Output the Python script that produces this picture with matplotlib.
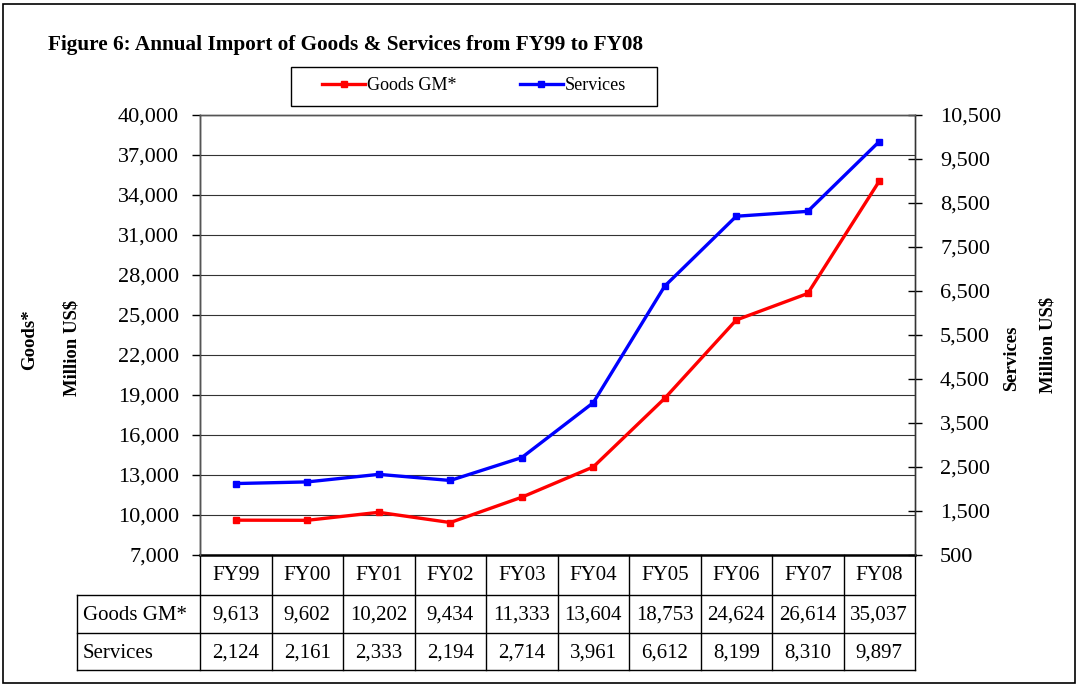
import numpy as np
import matplotlib as mpl
mpl.use('Agg')
import matplotlib.pyplot as plt
from matplotlib.lines import Line2D
from matplotlib.patches import Rectangle
import matplotlib.transforms as mtrans

years = ['FY99', 'FY00', 'FY01', 'FY02', 'FY03', 'FY04', 'FY05', 'FY06', 'FY07', 'FY08']
goods = [9613, 9602, 10202, 9434, 11333, 13604, 18753, 24624, 26614, 35037]
services = [2124, 2161, 2333, 2194, 2714, 3961, 6612, 8199, 8310, 9897]
left_ticks = list(range(7000, 40001, 3000))
right_ticks = list(range(500, 10501, 1000))

plt.rcParams['font.family'] = ['Liberation Serif', 'DejaVu Serif']

def main():
    W, H = 1078, 685
    fig = plt.figure(figsize=(W/100, H/100), dpi=100)
    # axes box in pixel terms
    x0, x1, yt, yb = 200, 915, 115, 555
    ax = fig.add_axes([x0/W, 1-yb/H, (x1-x0)/W, (yb-yt)/H])
    ax2 = ax.twinx()

    x = np.arange(len(years))
    ax.set_xlim(-0.5, len(years)-0.5)
    ax.set_ylim(7000, 40000)
    ax2.set_ylim(500, 10500)

    ax.set_yticks(left_ticks)
    ax.set_yticklabels(['{:,}'.format(v) for v in left_ticks], fontsize=16)
    ax2.set_yticks(right_ticks)
    ax2.set_yticklabels(['{:,}'.format(v) for v in right_ticks], fontsize=16)
    ax.set_xticks([])
    ax.tick_params(axis='y', direction='out', length=6, width=1, pad=9)
    ax2.tick_params(axis='y', direction='inout', length=10, width=1, pad=13)
    ax.grid(axis='y', color='#333333', linewidth=0.8)
    ax.set_axisbelow(True)

    for a in (ax, ax2):
        for s in a.spines.values():
            s.set_color('#555555')
            s.set_linewidth(1.0)
    ax.spines['bottom'].set_color('black')
    ax.spines['bottom'].set_linewidth(1.8)
    ax2.spines['bottom'].set_visible(False)
    ax.spines['left'].set_color('black')
    ax2.spines['right'].set_color('#333333')

    l1, = ax.plot(x, goods, color='#ff0000', lw=2.4, marker='s', ms=4.5, label='Goods GM*')
    l2, = ax2.plot(x, services, color='#0000ff', lw=2.4, marker='s', ms=4.5, label='Services')

    fig.legend([l1, l2], ['Goods GM*', 'Services'], loc='center',
               bbox_to_anchor=(474/W, 1-86/H), ncol=2, fontsize=13,
               frameon=False, handlelength=2.4, handletextpad=0.1,
               columnspacing=3.5)
    fig.add_artist(Rectangle((291/W, 1-106/H), 366/W, 39/H, transform=fig.transFigure,
                             fill=False, edgecolor='black', lw=1.0))

    fig.text(48/W, 1-45/H, 'Figure 6: Annual Import of Goods & Services from FY99 to FY08',
             fontsize=15.3, fontweight='bold', ha='left', va='center')

    fig.text(30/W, 1-340/H, 'Goods*', rotation=90, fontsize=13.5, fontweight='bold', ha='center', va='center')
    fig.text(72/W, 1-348/H, 'Million US$', rotation=90, fontsize=13.5, fontweight='bold', ha='center', va='center')
    fig.text(1012/W, 1-358/H, 'Services', rotation=90, fontsize=13.5, fontweight='bold', ha='center', va='center')
    fig.text(1048/W, 1-345/H, 'Million US$', rotation=90, fontsize=13.5, fontweight='bold', ha='center', va='center')

    # data table under the plot
    tr = mtrans.blended_transform_factory(ax.transData, ax.transAxes)
    ph = yb - yt
    def fy(py):
        return (yb - py) / ph
    xl = -0.5 + (77 - x0) / ((x1 - x0) / len(years))
    xr = len(years) - 0.5
    for py in (595, 633, 670):
        ax.add_line(Line2D([xl, xr], [fy(py), fy(py)], transform=tr, color='black', lw=1.0, clip_on=False))
    ax.add_line(Line2D([xl, xl], [fy(595), fy(670)], transform=tr, color='black', lw=1.0, clip_on=False))
    for k in range(len(years)+1):
        ax.add_line(Line2D([k-0.5, k-0.5], [fy(555), fy(670)], transform=tr, color='black', lw=1.0, clip_on=False))
    fs = 15
    for i in range(len(years)):
        ax.text(i, fy(575), years[i], transform=tr, ha='center', va='center', fontsize=fs)
        ax.text(i, fy(615), '{:,}'.format(goods[i]), transform=tr, ha='center', va='center', fontsize=fs)
        ax.text(i, fy(653), '{:,}'.format(services[i]), transform=tr, ha='center', va='center', fontsize=fs)
    ax.text(xl + 0.08, fy(615), 'Goods GM*', transform=tr, ha='left', va='center', fontsize=fs)
    ax.text(xl + 0.08, fy(653), 'Services', transform=tr, ha='left', va='center', fontsize=fs)

    # outer frame
    fig.add_artist(Rectangle((3/W, 2/H), 1072/W, 679/H, transform=fig.transFigure,
                             fill=False, edgecolor='black', lw=1.2))

    fig.savefig('out.png', dpi=100)
    plt.close()

if __name__ == '__main__':
    main()
